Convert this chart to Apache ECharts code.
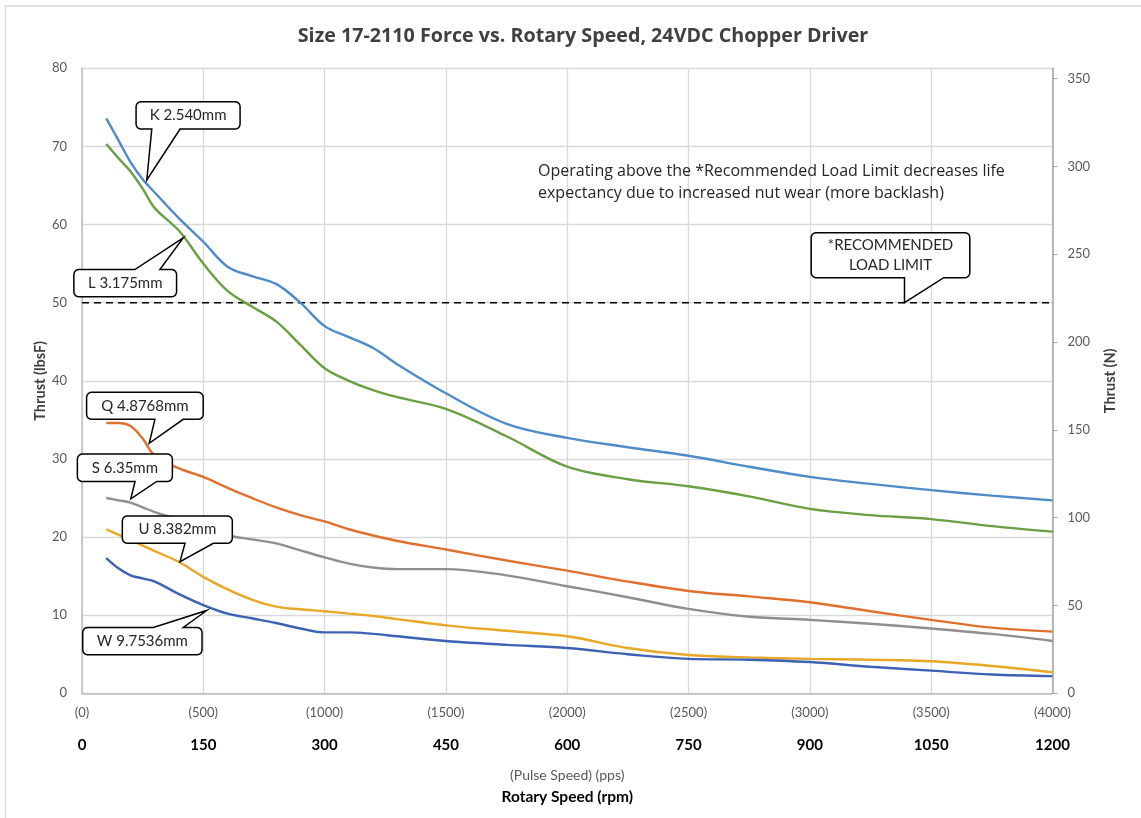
<!DOCTYPE html>
<html>
<head>
<meta charset="utf-8">
<script src="https://cdn.jsdelivr.net/npm/echarts@6/dist/echarts.min.js"></script>
<style>
html,body{margin:0;padding:0;background:#fff;}
#chart{width:1141px;height:818px;}
</style>
</head>
<body>
<div id="chart"></div>
<script>
// ---- data ----
const pps = [100,150,200,250,300,400,500,600,700,800,900,1000,1100,1200,1300,1500,1750,2000,2250,2500,2750,3000,3250,3500,3750,4000];
const K = [73.6,70.8,68.0,65.8,64.1,60.8,57.8,54.6,53.4,52.4,50.0,47.0,45.6,44.2,42.1,38.4,34.5,32.7,31.5,30.4,29.0,27.7,26.8,26.0,25.3,24.7];
const L = [70.3,68.5,66.8,64.6,62.1,59.2,55.0,51.5,49.5,47.6,44.6,41.6,40.0,38.8,37.9,36.4,32.9,29.0,27.4,26.5,25.2,23.6,22.8,22.3,21.4,20.7];
const Q = [34.6,34.6,34.2,32.6,30.4,28.8,27.7,26.3,25.0,23.8,22.8,22.0,21.0,20.2,19.5,18.4,17.0,15.7,14.3,13.1,12.4,11.65,10.5,9.4,8.4,7.9];
const S = [25.0,24.7,24.4,23.8,23.2,22.2,20.9,20.2,19.7,19.2,18.3,17.4,16.6,16.1,15.9,15.9,15.1,13.7,12.3,10.8,9.8,9.4,8.9,8.3,7.6,6.7];
const U = [21.0,20.3,19.6,18.9,18.2,16.8,14.9,13.3,12.0,11.1,10.75,10.5,10.2,9.9,9.5,8.7,8.0,7.3,5.8,4.9,4.6,4.4,4.3,4.1,3.5,2.7];
const W = [17.3,16.0,15.1,14.7,14.3,12.7,11.3,10.2,9.6,9.0,8.3,7.8,7.8,7.6,7.3,6.7,6.2,5.8,5.0,4.4,4.3,4.0,3.4,2.9,2.4,2.2];
const seriesNames = ['K 2.540mm','L 3.175mm','Q 4.8768mm','S 6.35mm','U 8.382mm','W 9.7536mm'];
const limitX = [0, 4000];
const limitY = [50, 50];
const ppsTicks = ['(0)','(500)','(1000)','(1500)','(2000)','(2500)','(3000)','(3500)','(4000)'];
const rpmTicks = ['0','150','300','450','600','750','900','1050','1200'];
const leftTicks = [0,10,20,30,40,50,60,70,80];
const rightTicks = [0,50,100,150,200,250,300,350];
const LBF_TO_N = 4.44822;
// callout anchors (data coords) and texts
const callouts = [
  {text:'K 2.540mm', at:[267,65.7]},
  {text:'L 3.175mm', at:[417,58.3]},
  {text:'Q 4.8768mm', at:[277,32.0]},
  {text:'S 6.35mm', at:[201,24.9]},
  {text:'U 8.382mm', at:[404,16.85]},
  {text:'W 9.7536mm', at:[514,10.6]},
  {text:'*RECOMMENDED\nLOAD LIMIT', at:[3390,50]}
];
const noteText = 'Operating above the *Recommended Load Limit decreases life\nexpectancy due to increased nut wear (more backlash)';

// ---- styles ----
const FONT = 'Lato, "Open Sans", sans-serif';
const WIDE = '"Open Sans", Lato, sans-serif';
const colors = ['#4E8BC8','#6B9F43','#E0702D','#8F8F8F','#E8A725','#3C62B3'];
// callout box geometry relative to tip (pixels)
const boxGeo = [
  {dx:-10.7, dy:-78.3, w:104, h:27.3, side:'bottom', b1:5, b2:33.3},
  {dx:-109.3, dy:31.7, w:102.7, h:27.3, side:'top', b1:-48.3, b2:-23.3},
  {dx:-62.6, dy:-51, w:116.6, h:27, side:'bottom', b1:5.7, b2:34},
  {dx:-53.4, dy:-44.7, w:95, h:27.4, side:'bottom', b1:4.3, b2:26},
  {dx:-57.7, dy:-45.7, w:110, h:27.3, side:'bottom', b1:5, b2:33.3},
  {dx:-124, dy:17, w:119.3, h:27.3, side:'top', b1:-53.4, b2:-23.4},
  {dx:-93.3, dy:-70, w:158.6, h:45, side:'bottom', b1:0, b2:39.3}
];

const dataSets = [K,L,Q,S,U,W];
const series = dataSets.map((arr,i)=>({
  name: seriesNames[i],
  type:'line',
  data: pps.map((x,j)=>[x,arr[j]]),
  smooth: 0.35,
  showSymbol:false,
  symbol:'none',
  lineStyle:{color:colors[i], width:2.4},
  itemStyle:{color:colors[i]},
  silent:true,
  z:3
}));
series.push({
  name:'limit', type:'line', data: limitX.map((x,j)=>[x,limitY[j]]),
  showSymbol:false, symbol:'none', silent:true,
  lineStyle:{color:'#000', width:1.5, type:[7,5]}, z:2
});

const chart = echarts.init(document.getElementById('chart'), null, {renderer:'canvas'});
const option = {
  animation:false,
  backgroundColor:'#fff',
  textStyle:{fontFamily:FONT},
  title:{
    text:'Size 17-2110 Force vs. Rotary Speed, 24VDC Chopper Driver',
    left:578, top:21, textAlign:'center',
    textStyle:{fontFamily:WIDE, fontSize:19.7, fontWeight:'bold', color:'#404040'}
  },
  grid:{left:82, right:88.5, top:68.3, bottom:124.7, containLabel:false},
  xAxis:{
    type:'value', min:0, max:4000, interval:500,
    axisLine:{show:true, lineStyle:{color:'#BFBFBF', width:1.5}},
    axisTick:{show:false},
    splitLine:{show:true, lineStyle:{color:'#D9D9D9', width:1.3}},
    axisLabel:{
      margin:7,
      formatter:function(v){const i=Math.round(v/500);return '{a|'+ppsTicks[i]+'}\n{b|'+rpmTicks[i]+'}';},
      rich:{
        a:{fontFamily:FONT, fontSize:13, color:'#595959', lineHeight:26},
        b:{fontFamily:FONT, fontSize:15, fontWeight:'bold', color:'#000', lineHeight:38}
      }
    },
    name:'{a|(Pulse Speed) (pps)}\n{b|Rotary Speed (rpm)}',
    nameLocation:'middle', nameGap:71, nameMoveOverlap:false,
    nameTextStyle:{
      rich:{
        a:{fontFamily:FONT, fontSize:14, color:'#595959', lineHeight:22},
        b:{fontFamily:FONT, fontSize:15.5, fontWeight:'bold', color:'#000', lineHeight:22}
      }
    }
  },
  yAxis:[
    {
      type:'value', min:0, max:80, interval:10, position:'left',
      axisLine:{show:true, lineStyle:{color:'#BFBFBF', width:1.5}},
      axisTick:{show:false},
      splitLine:{show:true, lineStyle:{color:'#D9D9D9', width:1.3}},
      axisLabel:{margin:15, fontFamily:FONT, fontSize:13, color:'#595959', customValues:leftTicks},
      name:'Thrust (lbsF)', nameLocation:'middle', nameGap:34, nameRotate:90, nameMoveOverlap:false,
      nameTextStyle:{fontFamily:FONT, fontSize:14.5, fontWeight:'bold', color:'#404040'}
    },
    {
      type:'value', min:0, max:80*LBF_TO_N, position:'right',
      axisLine:{show:true, lineStyle:{color:'#A6A6A6', width:1.5}},
      axisTick:{show:true, inside:false, length:5, lineStyle:{color:'#A6A6A6'}, customValues:rightTicks},
      splitLine:{show:false},
      axisLabel:{margin:15, fontFamily:FONT, fontSize:13, color:'#595959', customValues:rightTicks},
      name:'Thrust (N)', nameLocation:'middle', nameGap:50, nameRotate:90,
      nameTextStyle:{fontFamily:FONT, fontSize:14.5, fontWeight:'bold', color:'#404040'}
    }
  ],
  series:series
};
chart.setOption(option);

// rounded-corner callout outline as polygon points
function cornerPts(cx,cy,r,a0,a1){
  const pts=[];const n=5;
  for(let k=0;k<=n;k++){const a=a0+(a1-a0)*k/n;pts.push([cx+r*Math.cos(a),cy+r*Math.sin(a)]);}
  return pts;
}
function calloutPoints(x,y,w,h,r,side,bx1,bx2,tx,ty){
  const P=Math.PI;let pts=[];
  pts=pts.concat(cornerPts(x+r,y+r,r,P,1.5*P));
  if(side==='top'){pts.push([bx1,y],[tx,ty],[bx2,y]);}
  pts=pts.concat(cornerPts(x+w-r,y+r,r,1.5*P,2*P));
  pts=pts.concat(cornerPts(x+w-r,y+h-r,r,0,0.5*P));
  if(side==='bottom'){pts.push([bx2,y+h],[tx,ty],[bx1,y+h]);}
  pts=pts.concat(cornerPts(x+r,y+h-r,r,0.5*P,P));
  return pts;
}

const graphics = [];
graphics.push({type:'rect', shape:{x:5.5,y:6,width:1300,height:900},
  style:{fill:null, stroke:'#D9D9D9', lineWidth:1.5}, silent:true, z:0});
callouts.forEach((c,i)=>{
  const tip = chart.convertToPixel({xAxisIndex:0, yAxisIndex:0}, c.at);
  const g = boxGeo[i];
  const x = tip[0]+g.dx, y = tip[1]+g.dy;
  graphics.push({
    type:'polygon', shape:{points:calloutPoints(x,y,g.w,g.h,5,g.side,tip[0]+g.b1,tip[0]+g.b2,tip[0],tip[1])},
    style:{fill:'#fff', stroke:'#000', lineWidth:1.5, lineJoin:'miter'}, z:10, silent:true
  });
  graphics.push({
    type:'text', x:x+g.w/2, y:y+g.h/2,
    style:{text:c.text, fontFamily:FONT, fontSize:15, fill:'#262626', align:'center', verticalAlign:'middle', lineHeight:20},
    z:11, silent:true
  });
});
graphics.push({
  type:'text', x:538, y:182,
  style:{text:noteText, fontFamily:WIDE, fontSize:16, fill:'#262626', align:'left', verticalAlign:'middle', lineHeight:22},
  z:11, silent:true
});
chart.setOption({graphic:graphics});
</script>
</body>
</html>
